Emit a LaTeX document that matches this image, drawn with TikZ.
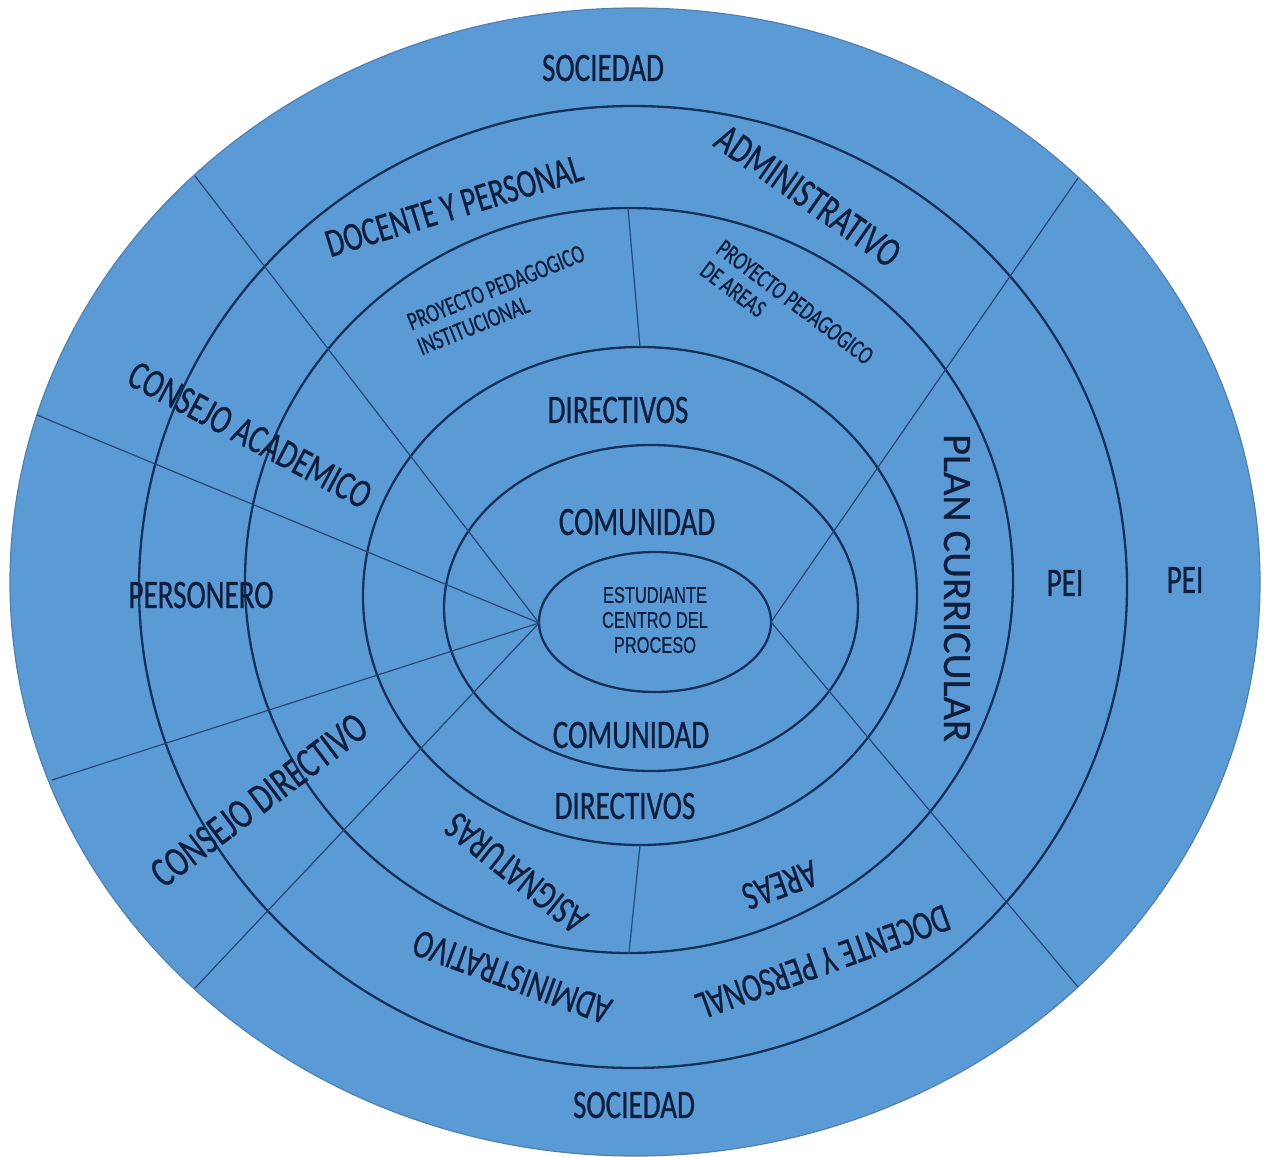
\documentclass[tikz,border=0pt]{standalone}
\usepackage{fontspec}
\setmainfont{Carlito}[FakeStretch=0.72,FakeBold=0.6]
\newfontfamily\widefont{Carlito}[FakeStretch=1.0,FakeBold=0.6]
\newfontfamily\narrowsans{Liberation Sans}[FakeStretch=0.72,FakeBold=0.5]
\definecolor{fillblue}{RGB}{91,155,213}
\definecolor{edgeblue}{RGB}{80,128,180}
\definecolor{ringc}{RGB}{22,48,92}
\definecolor{radc}{RGB}{38,70,118}
\definecolor{txtc}{RGB}{16,30,60}
\begin{document}
\begin{tikzpicture}[x=0.5pt,y=-0.5pt,
  ring/.style={draw=ringc,line width=1.15pt},
  radial/.style={draw=radc,line width=0.6pt},
  lbl/.style={text=txtc,inner sep=0pt,font=\fontsize{20.2}{21}\selectfont},
  small/.style={text=txtc,inner sep=0pt,align=left,font=\fontsize{13}{13.5}\selectfont},
  cen/.style={text=txtc,inner sep=0pt,align=center,font=\narrowsans\fontsize{11.4}{12.5}\selectfont}]
\useasboundingbox (0,0) rectangle (1265,1157);
\fill[white] (0,0) rectangle (1265,1157);
% outer disc
\draw[fill=fillblue,draw=edgeblue,line width=0.6pt] (635,582) ellipse [x radius=625, y radius=574];
% rings
\draw[ring] (633,587) ellipse [x radius=494, y radius=481];
\draw[ring] (629,580.5) ellipse [x radius=384, y radius=372.5];
\draw[ring] (640,596) ellipse [x radius=277, y radius=249];
\draw[ring] (651,608) ellipse [x radius=207, y radius=163];
\draw[ring] (655,622) ellipse [x radius=116, y radius=70];
% connector end points
\coordinate (cl) at (539,623);
\coordinate (cr) at (771,622);
\coordinate (ul) at (195,176);
\coordinate (ml) at (37,415);
\coordinate (ll) at (52,780);
\coordinate (bl) at (195,988);
\coordinate (ur) at (1078,178);
\coordinate (lr) at (1078,987);
\coordinate (tdA) at (628,208);
\coordinate (tdB) at (640,347);
\coordinate (bdA) at (640,845);
\coordinate (bdB) at (629,953);
% radial lines
\draw[radial] (cl) -- (ul);
\draw[radial] (cl) -- (ml);
\draw[radial] (cl) -- (ll);
\draw[radial] (cl) -- (bl);
\draw[radial] (cr) -- (ur);
\draw[radial] (cr) -- (lr);
\draw[radial] (tdA) -- (tdB);
\draw[radial] (bdA) -- (bdB);
% labels
\node[lbl] (soc1) at (603,68) {SOCIEDAD};
\node[lbl] (soc2) at (634,1105) {SOCIEDAD};
\node[lbl,rotate=17] (doc1) at (454,206) {DOCENTE Y PERSONAL};
\node[lbl,rotate=-35,font=\fontsize{21}{21}\selectfont] (adm1) at (808,196) {ADMINISTRATIVO};
\node[small,rotate=22] (ppi) at (501,300) {PROYECTO PEDAGOGICO\\INSTITUCIONAL};
\node[small,rotate=-37] (ppa) at (787,313) {PROYECTO PEDAGOGICO\\DE AREAS};
\node[lbl,rotate=-28,font=\fontsize{20.6}{21}\selectfont] (cacad) at (250,435) {CONSEJO ACADEMICO};
\node[lbl] (dir1) at (618,410) {DIRECTIVOS};
\node[lbl] (com1) at (637,522) {COMUNIDAD};
\node[cen] (est) at (655,620) {ESTUDIANTE\\CENTRO DEL\\PROCESO};
\node[lbl] (com2) at (631,735) {COMUNIDAD};
\node[lbl] (dir2) at (625,806) {DIRECTIVOS};
\node[lbl] (pers) at (201,595) {PERSONERO};
\node[lbl,rotate=-90,font=\widefont\fontsize{20.2}{21}\selectfont] (plan) at (957,588) {PLAN CURRICULAR};
\node[lbl] (pei1) at (1065,583) {PEI};
\node[lbl] (pei2) at (1185,580) {PEI};
\node[lbl,rotate=37,font=\fontsize{21.5}{21}\selectfont] (cdir) at (259,800) {CONSEJO DIRECTIVO};
\node[lbl,rotate=141.6] (asig) at (516,873) {ASIGNATURAS};
\node[lbl,rotate=200] (areas) at (780,885) {AREAS};
\node[lbl,rotate=160] (adm2) at (512,977) {ADMINISTRATIVO};
\node[lbl,rotate=200] (doc2) at (823,962) {DOCENTE Y PERSONAL};
\end{tikzpicture}
\end{document}
